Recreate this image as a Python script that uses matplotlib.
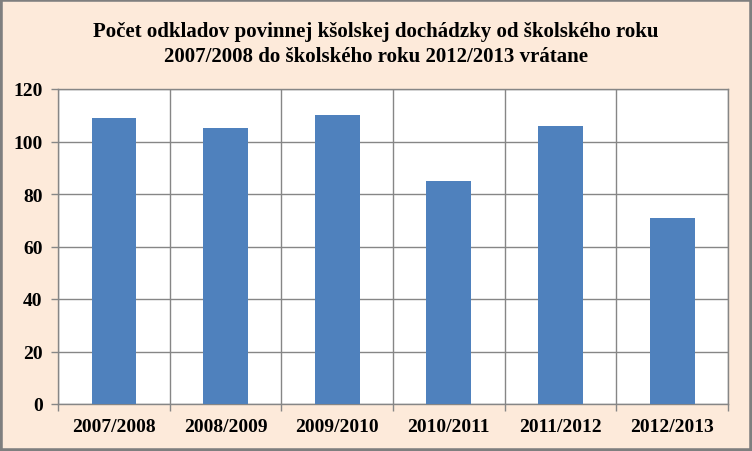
import matplotlib
matplotlib.use("Agg")
import matplotlib.pyplot as plt
from matplotlib.patches import Rectangle
from matplotlib.ticker import FixedLocator

categories = ["2007/2008", "2008/2009", "2009/2010", "2010/2011", "2011/2012", "2012/2013"]
values = [109, 105, 110, 85, 106, 71]
title = "Počet odkladov povinnej kšolskej dochádzky od školského roku\n2007/2008 do školského roku 2012/2013 vrátane"

plt.rcParams['font.family'] = ['Liberation Serif', 'DejaVu Serif']

bg = "#FDEADA"
grid_c = "#868686"

fig = plt.figure(figsize=(7.52, 4.52), dpi=100, facecolor=bg)
ax = fig.add_axes([58/752, 47/452, 670/752, 315/452])
ax.set_facecolor("white")

x = list(range(len(categories)))
ax.bar(x, values, width=0.4, color="#4F81BD", zorder=3)

ax.set_xlim(-0.5, len(categories) - 0.5)
ax.set_ylim(0, 120)
ax.set_yticks(range(0, 121, 20))
ax.set_yticklabels([str(v) for v in range(0, 121, 20)], fontsize=14, fontweight="bold")
ax.set_xticks(x)
ax.set_xticklabels(categories, fontsize=14, fontweight="bold")
ax.xaxis.set_minor_locator(FixedLocator([i - 0.5 for i in range(len(categories) + 1)]))

ax.tick_params(axis="x", which="major", length=0, pad=10)
ax.tick_params(axis="x", which="minor", length=5, color=grid_c, width=1)
ax.tick_params(axis="y", which="major", length=5, color=grid_c, width=1, pad=6)

ax.grid(axis="y", which="major", color=grid_c, linewidth=1, zorder=1)
ax.grid(axis="x", which="minor", color=grid_c, linewidth=1, zorder=1)
ax.set_axisbelow(True)
for s in ax.spines.values():
    s.set_color(grid_c)
    s.set_linewidth(1)

fig.text(376/752, 1 - 44.5/452, title, ha="center", va="center", fontsize=15,
         fontweight="bold", linespacing=1.4)

fig.patches.append(Rectangle((0, 0), 1, 1, transform=fig.transFigure, fill=False,
                             edgecolor="#7F7F7F", linewidth=4, zorder=10))

fig.savefig("out.png", dpi=100, facecolor=bg)
